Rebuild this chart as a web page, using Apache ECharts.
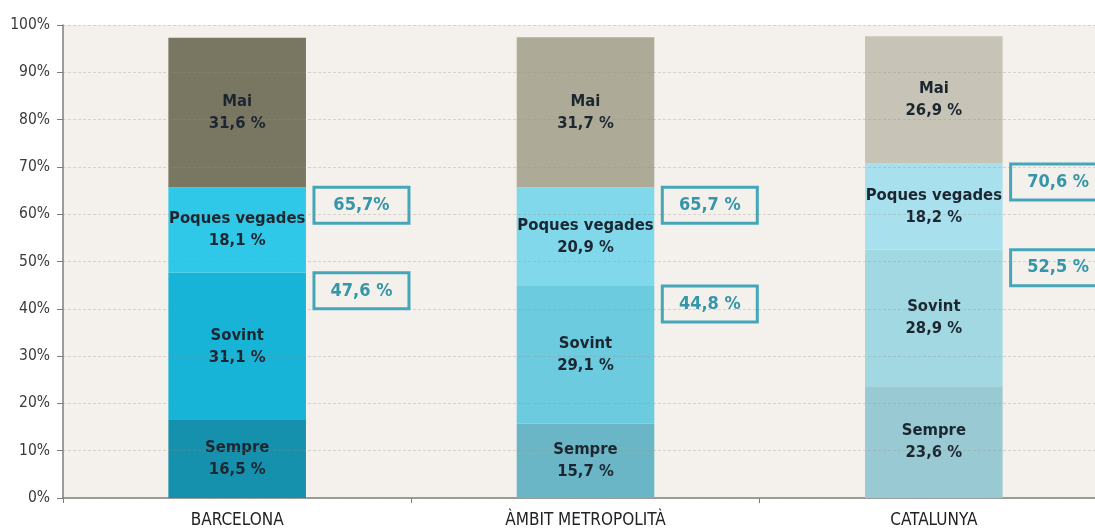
<!DOCTYPE html>
<html>
<head>
<meta charset="utf-8">
<script src="https://cdn.jsdelivr.net/npm/echarts@6/dist/echarts.min.js"></script>
<style>
  html, body { margin: 0; padding: 0; background: #ffffff; overflow: hidden; }
  #wrap { width: 1095px; height: 529px; overflow: hidden; }
  /* the plot runs slightly past the right edge of the page */
  #chart { width: 1108px; height: 529px; }
</style>
</head>
<body>
<div id="wrap"><div id="chart"></div></div>
<script>
// Freqüència per àmbit territorial (%)
const categories = ['BARCELONA', 'ÀMBIT METROPOLITÀ', 'CATALUNYA'];
const sempre = [16.5, 15.7, 23.6];
const sovint = [31.1, 29.1, 28.9];
const poquesVegades = [18.1, 20.9, 18.2];
const mai = [31.6, 31.7, 26.9];
const yTicks = [0, 10, 20, 30, 40, 50, 60, 70, 80, 90, 100];

// Acumulats destacats a la dreta de cada barra
const acumulatAlt = [65.7, 65.7, 70.6];
const acumulatAltText = ['65,7%', '65,7 %', '70,6 %'];
const acumulatBaix = [47.6, 44.8, 52.5];
const acumulatBaixText = ['47,6 %', '44,8 %', '52,5 %'];

// Colors per segment i territori
const colors = {
  sempre: ['#1590ad', '#6ab6c6', '#99cad3'],
  sovint: ['#18b4d8', '#6dcbe0', '#a1d8e2'],
  poques: ['#30c8e8', '#80d8ea', '#a8e1ed'],
  mai:    ['#797662', '#aeaa98', '#c7c3b6']
};

const FONT = 'DejaVu Sans Condensed';
const BAR_FRAC = 0.395;

function fmt(v) { return v.toFixed(1).replace('.', ','); }

function barSeries(name, values, palette) {
  return {
    name: name,
    type: 'bar',
    stack: 'total',
    barWidth: (BAR_FRAC * 100) + '%',
    data: values.map((v, i) => ({ value: v, itemStyle: { color: palette[i] } })),
    label: {
      show: true,
      position: 'inside',
      formatter: p => name + '\n' + fmt(p.value) + ' %',
      color: '#1b2630',
      fontFamily: FONT,
      fontWeight: 'bold',
      fontSize: 16.5,
      lineHeight: 22
    }
  };
}

function calloutSeries(values, texts) {
  return {
    type: 'custom',
    z: 4,
    data: values.map((v, i) => [i, v]),
    renderItem: function (params, api) {
      const pt = api.coord([api.value(0), api.value(1)]);
      const band = api.size([1, 0])[0];
      const w = 95, h = 36;
      const x = pt[0] + band * BAR_FRAC / 2 + 8;
      const y = pt[1];
      return {
        type: 'group',
        children: [
          { type: 'rect', shape: { x: x, y: y, width: w, height: h },
            style: { fill: 'rgba(0,0,0,0)', stroke: '#45a6ba', lineWidth: 3 } },
          { type: 'text',
            style: { text: texts[params.dataIndex], x: x + w / 2, y: y + h / 2,
                     align: 'center', verticalAlign: 'middle', fill: '#3596a9',
                     fontFamily: FONT, fontWeight: 'bold', fontSize: 18 } }
        ]
      };
    }
  };
}

const chart = echarts.init(document.getElementById('chart'), null, { renderer: 'canvas' });
chart.setOption({
  animation: false,
  backgroundColor: '#ffffff',
  grid: {
    left: 63, right: 0, top: 25, bottom: 31,
    show: true, backgroundColor: '#f4f1ec', borderWidth: 0
  },
  xAxis: {
    type: 'category',
    data: categories,
    axisLine: { lineStyle: { color: '#7d7d7d', width: 1.5 } },
    axisTick: { show: true, length: 5, lineStyle: { color: '#7d7d7d' } },
    axisLabel: { color: '#222222', fontFamily: FONT, fontSize: 17, margin: 14 }
  },
  yAxis: {
    type: 'value',
    min: yTicks[0], max: yTicks[yTicks.length - 1], interval: 10,
    z: 5,
    axisLine: { show: true, lineStyle: { color: '#7d7d7d', width: 1.5 } },
    axisTick: { show: true, length: 6, lineStyle: { color: '#7d7d7d' } },
    axisLabel: { formatter: '{value}%', color: '#3a3a3a', fontFamily: FONT, fontSize: 15.5, margin: 13 },
    splitLine: { show: true, lineStyle: { color: 'rgba(150,145,135,0.32)', type: [3, 2], width: 1 } }
  },
  series: [
    barSeries('Sempre', sempre, colors.sempre),
    barSeries('Sovint', sovint, colors.sovint),
    barSeries('Poques vegades', poquesVegades, colors.poques),
    barSeries('Mai', mai, colors.mai),
    calloutSeries(acumulatAlt, acumulatAltText),
    calloutSeries(acumulatBaix, acumulatBaixText)
  ]
});
</script>
</body>
</html>
